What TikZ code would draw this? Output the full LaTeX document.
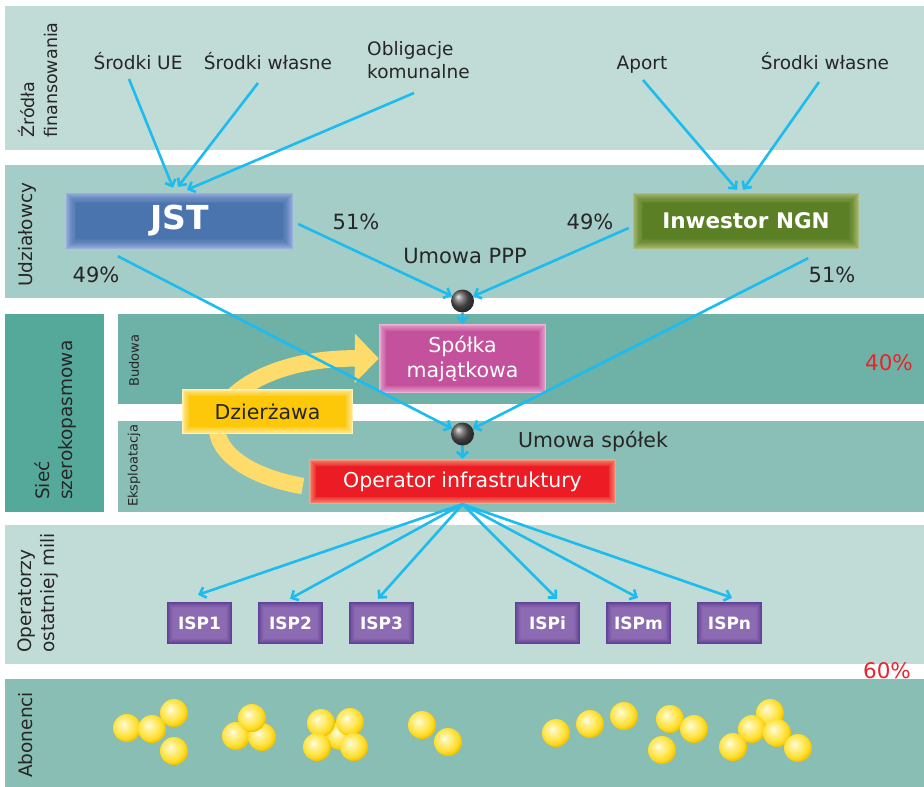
\documentclass[tikz,border=0pt]{standalone}
\usepackage{fontspec}
\setmainfont{DejaVu Sans}
\usetikzlibrary{arrows.meta}

% band colours
\definecolor{bandlight}{HTML}{C1DCD6}
\definecolor{bandshare}{HTML}{A5CDC8}
\definecolor{bandnet}{HTML}{55A99A}
\definecolor{bandbuild}{HTML}{6DB1A7}
\definecolor{bandrun}{HTML}{89BFB6}
\definecolor{bandsubs}{HTML}{89BEB5}
% lines and text
\definecolor{linkblue}{HTML}{1CBCEE}
\definecolor{txtdark}{HTML}{262626}
\definecolor{pctred}{HTML}{E8242C}
% boxes: flat centre colour and bevel edge colour
\definecolor{jstmain}{HTML}{4A74AE}
\definecolor{jstedge}{HTML}{9AAFDD}
\definecolor{ngnmain}{HTML}{5A7F24}
\definecolor{ngnedge}{HTML}{ABBD76}
\definecolor{spmain}{HTML}{C4519B}
\definecolor{spedge}{HTML}{EDB4D8}
\definecolor{opmain}{HTML}{EC1C24}
\definecolor{opedge}{HTML}{F7A683}
\definecolor{dzmain}{HTML}{FDC70A}
\definecolor{dzedge}{HTML}{FEF1BC}
\definecolor{ispmain}{HTML}{8D6BB2}
\definecolor{ispedge}{HTML}{583893}
\definecolor{leasey}{HTML}{FEDC6C}
\definecolor{dotgray}{HTML}{5A5A5A}
% subscriber spheres
\definecolor{yb0}{HTML}{FFFDE6}
\definecolor{yb1}{HTML}{FFF5AE}
\definecolor{yb2}{HTML}{FFE651}
\definecolor{yb3}{HTML}{FDD820}
\definecolor{yb4}{HTML}{F3C300}

\pgfdeclareradialshading{ysphere}{\pgfpoint{-7bp}{7bp}}{%
  color(0bp)=(yb0); color(5bp)=(yb1); color(17bp)=(yb2);
  color(24bp)=(yb3); color(27bp)=(yb4); color(60bp)=(yb4)}

\newcommand\setfs[2]{\fontsize{#1}{#2}\selectfont}

\begin{document}
\begin{tikzpicture}[x=1pt,y=-1pt,
  glow/.style n args={3}{fill=#1, path picture={%
    \foreach \k in {0,...,9}{%
      \pgfmathtruncatemacro\glowmix{100*(\k/9)^0.8}%
      \pgfmathsetmacro\glowoff{(\k+0.5)*#3}%
      \draw[draw=#1!\glowmix!#2, line width=#3*1pt+0.4pt]
        ([shift={(\glowoff pt,\glowoff pt)}]path picture bounding box.south west) rectangle
        ([shift={(-\glowoff pt,-\glowoff pt)}]path picture bounding box.north east);
    }}},
  sidelab/.style={rotate=90, anchor=west, align=left, inner sep=0pt, text=txtdark,
    font=\setfs{18.5}{23}},
  smalllab/.style={rotate=90, anchor=west, inner sep=0pt, text=txtdark, font=\setfs{13}{16}},
  src/.style={inner sep=0pt, anchor=base, text=txtdark, font=\setfs{18.5}{22.5}},
  pct/.style={inner sep=0pt, anchor=base, text=txtdark, font=\setfs{21}{25}},
  redpct/.style={inner sep=0pt, anchor=base, text=pctred, font=\setfs{21.5}{25}},
  boxtxt/.style={inner sep=0pt, align=center, font=\setfs{20.5}{25}},
  ispbox/.style={glow={ispmain}{ispedge}{0.65}, minimum width=65pt, minimum height=42pt,
    inner sep=0pt, text=white, font=\bfseries\setfs{17}{19}},
  link/.style={draw=linkblue, line width=2.6pt, -{Straight Barb[length=5.5pt,width=11pt]}},
  lease/.style={draw=leasey, line width=16.5pt, -{Triangle[length=24pt,width=48pt]}},
  dot/.style={circle, minimum size=23pt, inner sep=0pt, shading=ball, ball color=dotgray},
  yball/.style={circle, minimum size=28pt, inner sep=0pt, shading=ysphere}]

\useasboundingbox (0,0) rectangle (924,787);
\fill[white] (0,0) rectangle (924,787);

% horizontal bands
\fill[bandlight] (5,6) rectangle (924,150);
\fill[bandshare] (5,165) rectangle (924,298);
\fill[bandnet] (5,314) rectangle (104,512);
\fill[bandbuild] (118,314) rectangle (924,404);
\fill[bandrun] (118,421) rectangle (924,512);
\fill[bandlight] (5,525) rectangle (924,664);
\fill[bandsubs] (5,679) rectangle (924,787);

% band titles
\node[sidelab, font=\setfs{17.5}{23}] (lsrc) at (38,138) {Źródła\\finansowania};
\node[sidelab] (lshare) at (27,287) {Udziałowcy};
\node[sidelab] (lnet) at (56,500) {Sieć\\szerokopasmowa};
\node[smalllab] (lbuild) at (134,387) {Budowa};
\node[smalllab] (lrun) at (134,507) {Eksploatacja};
\node[sidelab] (llast) at (38,653) {Operatorzy\\ostatniej mili};
\node[sidelab] (lsubs) at (26,778) {Abonenci};

% funding sources
\node[src] (s1) at (138,69) {Środki UE};
\node[src] (s2) at (268,69) {Środki własne};
\node[src, anchor=west, align=left] (s3) at (367,60) {Obligacje\\komunalne};
\node[src] (s4) at (642,69) {Aport};
\node[src] (s5) at (825,69) {Środki własne};

% shareholders
\node[glow={jstmain}{jstedge}{1.1}, minimum width=227pt, minimum height=56pt, inner sep=0pt,
  text=white, font=\bfseries\setfs{33}{36}] (jst) at (179.5,221) {JST};
\node[glow={ngnmain}{ngnedge}{1.1}, minimum width=226pt, minimum height=56pt, inner sep=0pt,
  text=white, font=\bfseries\setfs{21.5}{25}] (ngn) at (746,221) {Inwestor NGN};

% companies
\node[boxtxt, glow={spmain}{spedge}{0.85}, minimum width=167pt, minimum height=69pt,
  text=white] (sp) at (462.5,358.5) {Spółka\\majątkowa};
\node[boxtxt, glow={opmain}{opedge}{0.85}, minimum width=307pt, minimum height=45pt,
  text=white] (op) at (462.5,481.5) {Operator infrastruktury};

% lease arrow from the operator back to the asset company
\draw[lease] ([shift={(-6pt,-4.5pt)}]op.west) .. controls (255,478) and (215,455) .. (217,425)
  .. controls (219,395) and (270,358) .. (sp.west);
\node[boxtxt, glow={dzmain}{dzedge}{0.85}, minimum width=171pt, minimum height=45pt,
  text=txtdark] (dz) at (267.5,411.5) {Dzierżawa};

% agreement junctions
\node[dot] (d1) at (462.5,301) {};
\node[dot] (d2) at (462.5,434) {};

% last-mile operators
\node[ispbox] (isp1) at (199.5,623) {ISP1};
\node[ispbox] (isp2) at (290.5,623) {ISP2};
\node[ispbox] (isp3) at (381.5,623) {ISP3};
\node[ispbox] (ispi) at (547.5,623) {ISPi};
\node[ispbox] (ispm) at (638.5,623) {ISPm};
\node[ispbox] (ispn) at (729.5,623) {ISPn};

% funding flows
\draw[link] ([shift={(-9pt,-10pt)}]s1.base) -- ([shift={(-6.5pt,5pt)}]jst.north);
\draw[link] ([shift={(-10pt,-14pt)}]s2.base) -- ([shift={(-1.5pt,6pt)}]jst.north);
\draw[link] ([shift={(47pt,-33pt)}]s3.west) -- ([shift={(7.5pt,3pt)}]jst.north);
\draw[link] ([shift={(1pt,-11pt)}]s4.base) -- ([shift={(-9pt,3pt)}]ngn.north);
\draw[link] ([shift={(-6pt,-13pt)}]s5.base) -- ([shift={(-3pt,3pt)}]ngn.north);

% shares
\draw[link] ([shift={(5pt,-3pt)}]jst.east) -- (d1);
\draw[link] ([shift={(-4pt,-7pt)}]ngn.west) -- (d1);
\draw[link] ([shift={(52pt,-7pt)}]jst.south west) -- (d2);
\draw[link] ([shift={(-51pt,-9pt)}]ngn.south east) -- (d2);
\draw[link] (d1) -- (sp);
\draw[link] (d2) -- (op);

% access for last-mile operators
\draw[link] (op.south) -- ([shift={(-1.5pt,7pt)}]isp1.north);
\draw[link] (op.south) -- ([shift={(-0.5pt,3pt)}]isp2.north);
\draw[link] (op.south) -- ([shift={(-3.5pt,3pt)}]isp3.north);
\draw[link] (op.south) -- ([shift={(9.5pt,3pt)}]ispi.north);
\draw[link] (op.south) -- ([shift={(-0.5pt,4pt)}]ispm.north);
\draw[link] (op.south) -- ([shift={(2.5pt,4pt)}]ispn.north);

% share labels
\node[pct] (p51a) at (356,229) {51\%};
\node[pct] (p49a) at (96,282) {49\%};
\node[pct] (ppp) at (465,263) {Umowa PPP};
\node[pct] (p49b) at (590,229) {49\%};
\node[pct] (p51b) at (832,282) {51\%};
\node[pct, font=\setfs{20.5}{25}] (usp) at (593,447) {Umowa spółek};
\node[redpct] (p40) at (889,370) {40\%};
\node[redpct] (p60) at (887,678) {60\%};

% subscribers
\node[yball] (b1) at (127,728) {};
\node[yball] (b2) at (152,729) {};
\node[yball] (b3) at (174,713) {};
\node[yball] (b4) at (174,751) {};
\node[yball] (b5) at (236,736) {};
\node[yball] (b6) at (262,737) {};
\node[yball] (b7) at (252,718) {};
\node[yball] (b8) at (340,736) {};
\node[yball] (b9) at (321,723) {};
\node[yball] (b10) at (350,722) {};
\node[yball] (b11) at (317,747) {};
\node[yball] (b12) at (354,747) {};
\node[yball] (b13) at (422,725) {};
\node[yball] (b14) at (448,742) {};
\node[yball] (b15) at (556,733) {};
\node[yball] (b16) at (590,724) {};
\node[yball] (b17) at (624,716) {};
\node[yball] (b18) at (670,719) {};
\node[yball] (b19) at (694,729) {};
\node[yball] (b20) at (662,750) {};
\node[yball] (b21) at (770,713) {};
\node[yball] (b22) at (752,729) {};
\node[yball] (b23) at (777,733) {};
\node[yball] (b24) at (733,747) {};
\node[yball] (b25) at (798,748) {};
\end{tikzpicture}
\end{document}
